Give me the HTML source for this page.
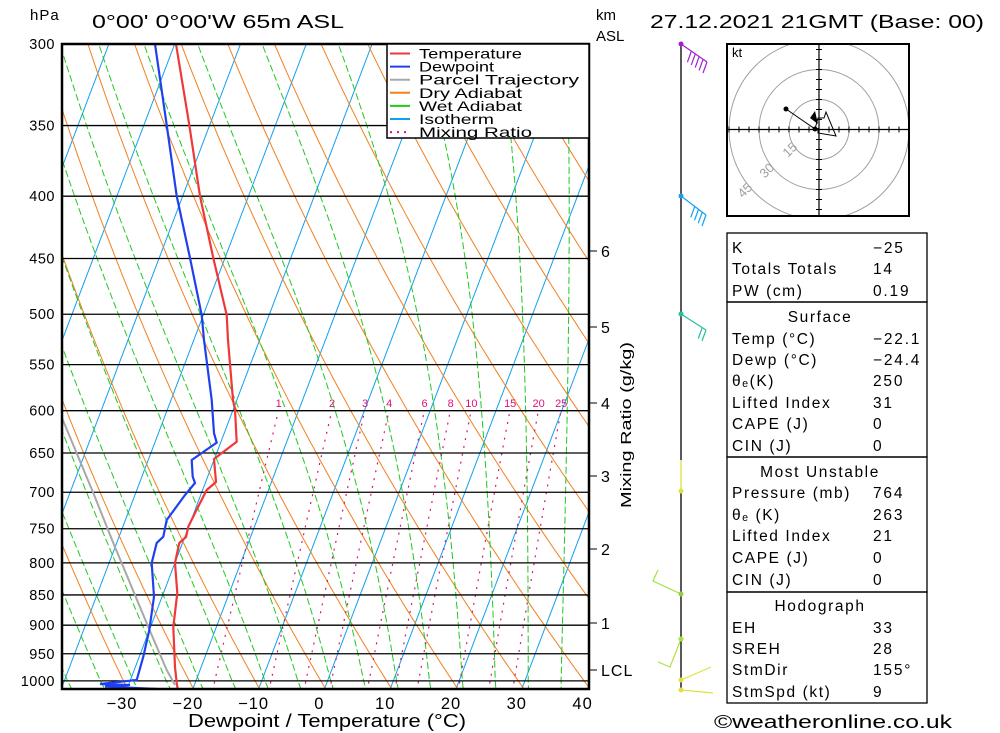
<!DOCTYPE html>
<html><head><meta charset="utf-8"><style>
html,body{margin:0;padding:0;background:#fff}
svg{display:block;font-family:"Liberation Sans",sans-serif}
</style></head><body>
<svg id="s" width="1000" height="733" viewBox="0 0 1000 733" xmlns="http://www.w3.org/2000/svg">
<defs><clipPath id="pc"><rect x="62" y="44" width="527" height="645"/></clipPath></defs>
<g id="bg" clip-path="url(#pc)"></g>
<g id="fg"></g>
<text x="30" y="20" font-size="15" letter-spacing="1">hPa</text>
<text x="92" y="28" font-size="18" textLength="252" lengthAdjust="spacingAndGlyphs">0°00' 0°00'W 65m ASL</text>
<text x="650" y="28" font-size="18" textLength="334" lengthAdjust="spacingAndGlyphs">27.12.2021 21GMT (Base: 00)</text>
<text x="596" y="20" font-size="15">km</text>
<text x="596" y="41" font-size="15">ASL</text>
<text x="327" y="727" font-size="18" text-anchor="middle" textLength="278" lengthAdjust="spacingAndGlyphs">Dewpoint / Temperature (°C)</text>
<text transform="translate(631,425) rotate(-90)" font-size="15" text-anchor="middle" textLength="166" lengthAdjust="spacingAndGlyphs">Mixing Ratio (g/kg)</text>
<text x="714" y="728" font-size="18" textLength="238" lengthAdjust="spacingAndGlyphs">©weatheronline.co.uk</text>
</svg>
<script>
var NS="http://www.w3.org/2000/svg";
var bg=document.getElementById('bg'),fg=document.getElementById('fg');
function el(par,tag,at,txt){var e=document.createElementNS(NS,tag);for(var k in at)e.setAttribute(k,at[k]);if(txt!==undefined)e.textContent=txt;par.appendChild(e);return e;}
function Y(p){return 44+529*Math.log(p/300);}
function X(T,y){return 324.4+6.58*T+0.38*(689-y);}
function pl(par,pts,st){el(par,'polyline',Object.assign({points:pts.map(function(a){return a[0].toFixed(1)+','+a[1].toFixed(1)}).join(' '),fill:'none'},st));}
for(var T=-120;T<=50;T+=10){pl(bg,[[X(T,689),689],[X(T,44),44]],{stroke:'#10a0f0','stroke-width':1});}
for(var n=-5;n<=13;n++){var th=273.15+10*n-1,pts=[];for(var p=1020;p>=295;p-=5){var t=th*Math.pow(p/1000,0.286)-273.15;var y=Y(p);pts.push([X(t,y),y]);}pl(bg,pts,{stroke:'#f08020','stroke-width':1});}
function dTdp(T,p){var Rd=287.04,cp=1005.7,L=2.501e6,eps=0.622;var es=6.112*Math.exp(17.67*(T-273.15)/(T-29.65));var rs=eps*es/(p-es);return (Rd*T+L*rs)/(cp+L*L*rs*eps/(Rd*T*T))/p;}
for(var t0=-40;t0<=45;t0+=5){var T=t0+0.5+273.15,pts=[];var Tu=T;for(var p=1000;p<=1020;p+=2){Tu+=dTdp(Tu,p)*2;}pts.push([X(Tu-273.15,Y(1020)),Y(1020)]);
for(var p=1000;p>=295;p-=2){var y=Y(p);pts.push([X(T-273.15,y),y]);T-=dTdp(T,p)*2;}pl(bg,pts.reverse(),{stroke:'#20c820','stroke-width':1,'stroke-dasharray':'7,3'});}
var ws=[1,2,3,4,6,8,10,15,20,25];
function Td(w,p){var e=w*p/(622+w);var l=Math.log(e/6.112);return 243.5*l/(17.67-l);}
ws.forEach(function(w){var pts=[];for(var p=1020;p>=600;p-=10){var y=Y(p);pts.push([X(Td(w,p),y),y]);}pl(bg,pts,{stroke:'#e0107a','stroke-width':1.2,'stroke-dasharray':'2,6'});
el(fg,'text',{x:X(Td(w,600),410).toFixed(1),y:407,'font-size':11,fill:'#e0107a','text-anchor':'middle'},String(w));});
[300,350,400,450,500,550,600,650,700,750,800,850,900,950,1000].forEach(function(p){var y=Y(p);el(fg,'line',{x1:62,x2:589,y1:y,y2:y,stroke:'#000','stroke-width':1.3});
el(fg,'text',{x:55,y:y+5,'font-size':14.5,'letter-spacing':0.5,'text-anchor':'end'},String(p));});
pl(fg,[[62,418],[93.3,493],[113.3,543],[148.3,627],[166.7,670],[175,685]],{stroke:'#a8a8a8','stroke-width':2});
pl(fg,[[155,44],[166.7,125],[176.7,196],[190,258],[201.7,315],[204,340],[211.7,400],[214,433],[216.7,442.7],[191.7,460],[192.7,476.7],[195,483],[185,495],[166.7,520],[163.3,536.7],[156.7,543],[151.7,563],[154,596.7],[149.3,630],[143.3,656.7],[136.7,680],[100,684],[130,685],[105,686.5],[157,689]],{stroke:'#2040f0','stroke-width':2.2});
pl(fg,[[176,44],[189.3,125],[200,196],[213.3,258],[226.7,315],[228,340],[233,400],[235,410],[236.7,441.7],[214,459],[216,482],[206.7,490],[195,513],[188.3,526.7],[186,537],[179.3,543],[175,563],[177.3,593],[173.3,627],[175,667],[176.7,683],[177.7,689]],{stroke:'#f03838','stroke-width':2.2});
el(fg,'rect',{x:62,y:44,width:527,height:645,fill:'none',stroke:'#000','stroke-width':2.5});
[-30,-20,-10,0,10,20,30,40].forEach(function(t){el(fg,'text',{x:X(t,689)-5,y:709,'font-size':16.5,'letter-spacing':1,'text-anchor':'middle'},(t<0?'\u2212':'')+Math.abs(t));});
[[6,251],[5,327],[4,403],[3,476],[2,549],[1,623],['LCL',670]].forEach(function(a){el(fg,'line',{x1:589,x2:597,y1:a[1],y2:a[1],stroke:'#000','stroke-width':1});el(fg,'text',{x:601,y:a[1]+6,'font-size':16,'letter-spacing':1},String(a[0]));});
el(fg,'rect',{x:387,y:44,width:202,height:94,fill:'#fff',stroke:'#000','stroke-width':1.5});
[['Temperature','#f03838'],['Dewpoint','#2040f0'],['Parcel Trajectory','#a8a8a8'],['Dry Adiabat','#f08020'],['Wet Adiabat','#20c820'],['Isotherm','#10a0f0'],['Mixing Ratio','#e0107a']].forEach(function(a,i){var y=53.5+i*13.1;
el(fg,'line',{x1:390,x2:410,y1:y,y2:y,stroke:a[1],'stroke-width':2,'stroke-dasharray':i==6?'2,5':'none'});
el(fg,'text',{x:419,y:y+5,'font-size':14,textLength:(a[0].length*9.4).toFixed(0),lengthAdjust:'spacingAndGlyphs'},a[0]);});
el(fg,'line',{x1:681,x2:681,y1:44,y2:460,stroke:'#000','stroke-width':1.3});
el(fg,'line',{x1:681,x2:681,y1:460,y2:491,stroke:'#e0e040','stroke-width':1.3});
el(fg,'line',{x1:681,x2:681,y1:491,y2:690,stroke:'#000','stroke-width':1.3});
function barb(x,y,x2,y2,n,c){el(fg,'line',{x1:x,y1:y,x2:x2,y2:y2,stroke:c,'stroke-width':1.2});for(var i=0;i<n;i++){var f=1-i*0.15;var bx=x+(x2-x)*f,by=y+(y2-y)*f;el(fg,'line',{x1:bx,y1:by,x2:bx-4,y2:by+11,stroke:c,'stroke-width':1.2});}}
barb(681,44,707,62,5,'#a020d0');barb(681,196,706,215,4,'#10a0f0');barb(681,314,706,330,2,'#20c0a0');
el(fg,'polyline',{points:'681,594 653,581 658,570',fill:'none',stroke:'#a0e040','stroke-width':1.2});
el(fg,'polyline',{points:'681,639 670,667 658,662',fill:'none',stroke:'#b0e040','stroke-width':1.2});
el(fg,'line',{x1:681,y1:680,x2:711,y2:667,stroke:'#e0e040','stroke-width':1.2});
el(fg,'line',{x1:681,y1:690,x2:713,y2:693,stroke:'#e0e040','stroke-width':1.2});
[[44,'#a020d0'],[196,'#10a0f0'],[314,'#20c0a0'],[491,'#e0e040'],[594,'#90d040'],[639,'#a0e040'],[680,'#e0e040'],[690,'#e0e040']].forEach(function(a){el(fg,'circle',{cx:681,cy:a[0],r:2.5,fill:a[1]});});
var cx=819,cy=129.5;
el(fg,'defs',{}).innerHTML='<clipPath id="hc"><rect x="727" y="44" width="182" height="172"/></clipPath>';
var hg=el(fg,'g',{'clip-path':'url(#hc)'});
[30,60,90].forEach(function(r){el(hg,'circle',{cx:cx,cy:cy,r:r,fill:'none',stroke:'#a0a0a0','stroke-width':1});});
el(hg,'line',{x1:727,x2:909,y1:cy,y2:cy,stroke:'#000','stroke-width':1.2});el(hg,'line',{x1:cx,x2:cx,y1:44,y2:216,stroke:'#000','stroke-width':1.2});
for(var d=-90;d<=90;d+=10){if(d==0)continue;el(hg,'line',{x1:cx+d,x2:cx+d,y1:cy-3,y2:cy+3,stroke:'#000'});el(hg,'line',{y1:cy+d,y2:cy+d,x1:cx-3,x2:cx+3,stroke:'#000'});}
[['15',26],['30',49],['45',71]].forEach(function(a){var x=cx-a[1]*1.0,y=cy+a[1]*0.9;el(hg,'text',{x:x,y:y,'font-size':13,fill:'#a0a0a0','text-anchor':'middle',transform:'rotate(-45 '+x+' '+y+')'},a[0]);});
el(hg,'polyline',{points:'786,109 815,129 818,118 824,118 826,112 836,136 818,133 818,128',fill:'none',stroke:'#000','stroke-width':1});
el(hg,'polygon',{points:'810,118 815,111 818,124',fill:'#000'});
el(hg,'circle',{cx:786,cy:109,r:2.5,fill:'#000'});el(hg,'circle',{cx:815,cy:129,r:2.5,fill:'#000'});
el(fg,'rect',{x:727,y:44,width:182,height:172,fill:'none',stroke:'#000','stroke-width':2});
el(fg,'text',{x:732,y:57,'font-size':13},'kt');
function box(y1,y2){el(fg,'rect',{x:727,y:y1,width:200,height:y2-y1,fill:'none',stroke:'#000','stroke-width':1.3});}
box(233,302);box(302,457);box(457,592);box(592,703);
function row(l,v,y){el(fg,'text',{x:732,y:y+6,'font-size':15.5,'letter-spacing':1.6},l);el(fg,'text',{x:873,y:y+6,'font-size':15.5,'letter-spacing':1.8},v);}
function head(l,y){el(fg,'text',{x:820,y:y+6,'font-size':15.5,'letter-spacing':1.6,'text-anchor':'middle'},l);}
row('K','\u221225',247);row('Totals Totals','14',268);row('PW (cm)','0.19',290);
head('Surface',316);row('Temp (\u00b0C)','\u221222.1',338);row('Dewp (\u00b0C)','\u221224.4',359);row('\u03b8\u2091(K)','250',380);row('Lifted Index','31',402);row('CAPE (J)','0',423);row('CIN (J)','0',445);
head('Most Unstable',471);row('Pressure (mb)','764',492);row('\u03b8\u2091 (K)','263',514);row('Lifted Index','21',535);row('CAPE (J)','0',557);row('CIN (J)','0',579);
head('Hodograph',605);row('EH','33',627);row('SREH','28',648);row('StmDir','155\u00b0',669);row('StmSpd (kt)','9',691);
</script>
</body></html>
